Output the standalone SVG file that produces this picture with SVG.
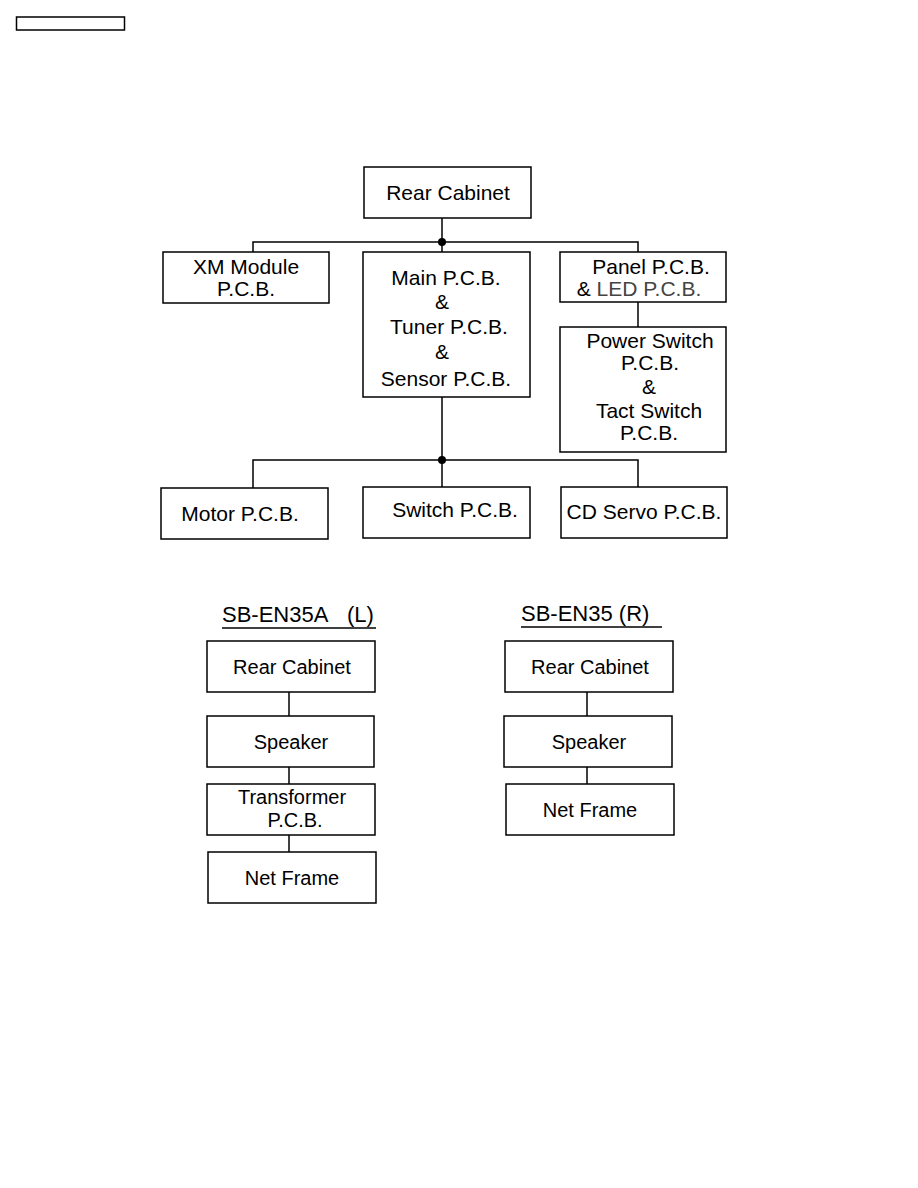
<svg xmlns="http://www.w3.org/2000/svg" width="918" height="1188" viewBox="0 0 918 1188">
<style>
rect.b{fill:#fff;stroke:#000;stroke-width:1.5}
text{font-family:"Liberation Sans",Arial,sans-serif;font-size:21px;fill:#000;text-anchor:middle}
text.s{font-size:20px}
text.h{font-size:22px;text-anchor:start}
.c line,.c path{stroke:#000;stroke-width:1.5;fill:none}
</style>
<rect width="918" height="1188" fill="#fff"/>
<rect x="16.5" y="17" width="108" height="13" fill="none" stroke="#000" stroke-width="1.5"/>
<g class="c" id="connectors">
<line x1="442" y1="218" x2="442" y2="252"/>
<path d="M253 252V242H638V252"/>
<circle cx="442" cy="242" r="4" fill="#000"/>
<line x1="638" y1="302" x2="638" y2="327"/>
<line x1="442" y1="397" x2="442" y2="487"/>
<path d="M253 488V460H638V487"/>
<circle cx="442" cy="460" r="4" fill="#000"/>
<line x1="289" y1="692" x2="289" y2="716"/>
<line x1="289" y1="767" x2="289" y2="784"/>
<line x1="289" y1="835" x2="289" y2="852"/>
<line x1="587" y1="692" x2="587" y2="716"/>
<line x1="587" y1="767" x2="587" y2="784"/>
<line x1="222" y1="628" x2="376" y2="628"/>
<line x1="521" y1="627" x2="662" y2="627"/>
</g>
<g id="rear-cabinet"><rect class="b" x="364" y="167" width="167" height="51"/><text x="448" y="200">Rear Cabinet</text></g>
<g id="xm-module"><rect class="b" x="163" y="252" width="166" height="51"/><text x="246" y="274">XM Module</text><text x="246" y="296">P.C.B.</text></g>
<g id="main-pcb"><rect class="b" x="363" y="252" width="167" height="145"/>
<text x="446" y="285">Main P.C.B.</text><text x="442" y="309">&amp;</text><text x="449" y="334">Tuner P.C.B.</text><text x="442" y="359">&amp;</text><text x="446" y="386">Sensor P.C.B.</text></g>
<g id="panel-pcb"><rect class="b" x="560" y="252" width="166" height="50"/><text x="651" y="274">Panel P.C.B.</text><text x="639" y="296"><tspan>&amp; </tspan><tspan fill="#444">LED P.C.B.</tspan></text></g>
<g id="power-switch"><rect class="b" x="560" y="327" width="166" height="125"/>
<text x="650" y="348">Power Switch</text><text x="650" y="370">P.C.B.</text><text x="649" y="394">&amp;</text><text x="649" y="418">Tact Switch</text><text x="649" y="440">P.C.B.</text></g>
<g id="motor-pcb"><rect class="b" x="161" y="488" width="167" height="51"/><text x="240" y="521">Motor P.C.B.</text></g>
<g id="switch-pcb"><rect class="b" x="363" y="487" width="167" height="51"/><text x="455" y="517">Switch P.C.B.</text></g>
<g id="cd-servo"><rect class="b" x="561" y="487" width="166" height="51"/><text x="644" y="519">CD Servo P.C.B.</text></g>
<text class="h" x="222" y="622">SB-EN35A</text>
<text class="h" x="347" y="622">(L)</text>
<text class="h" x="521" y="621">SB-EN35 (R)</text>
<g id="l-rear"><rect class="b" x="207" y="641" width="168" height="51"/><text class="s" x="292" y="674">Rear Cabinet</text></g>
<g id="l-speaker"><rect class="b" x="207" y="716" width="167" height="51"/><text class="s" x="291" y="749">Speaker</text></g>
<g id="l-transformer"><rect class="b" x="207" y="784" width="168" height="51"/><text class="s" x="292" y="804">Transformer</text><text class="s" x="295" y="827">P.C.B.</text></g>
<g id="l-netframe"><rect class="b" x="208" y="852" width="168" height="51"/><text class="s" x="292" y="885">Net Frame</text></g>
<g id="r-rear"><rect class="b" x="505" y="641" width="168" height="51"/><text class="s" x="590" y="674">Rear Cabinet</text></g>
<g id="r-speaker"><rect class="b" x="504" y="716" width="168" height="51"/><text class="s" x="589" y="749">Speaker</text></g>
<g id="r-netframe"><rect class="b" x="506" y="784" width="168" height="51"/><text class="s" x="590" y="817">Net Frame</text></g>
</svg>
